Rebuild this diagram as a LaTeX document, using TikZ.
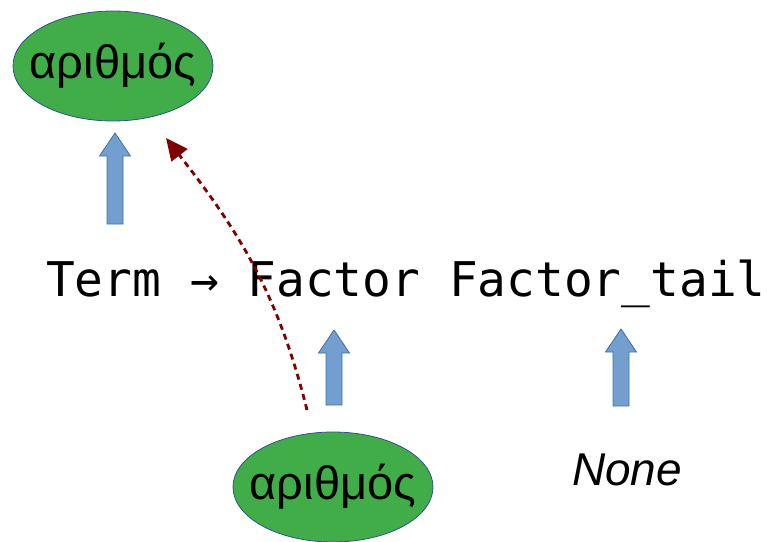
\documentclass[tikz,border=0pt]{standalone}
\usepackage{fontspec}
\setmainfont{Liberation Sans}
\newfontfamily\codefont{DejaVu Sans Mono}
\usetikzlibrary{shapes.geometric,arrows.meta}
\definecolor{numgreen}{RGB}{64,173,72}
\definecolor{numedge}{RGB}{47,82,143}
\definecolor{upfill}{RGB}{114,159,207}
\definecolor{upedge}{RGB}{65,113,156}
\definecolor{linkred}{RGB}{128,0,0}
\tikzset{
    numnode/.style={ellipse, draw=numedge, line width=0.8pt, fill=numgreen,
        minimum width=200pt, minimum height=110pt, inner sep=0pt,
        label={[font=\fontsize{47pt}{50pt}\selectfont, inner sep=0pt]center:#1}},
    uparrow/.style={draw=upedge, line width=0.8pt, fill=upfill},
    linkarrow/.style={linkred, line width=2.8pt, dash pattern=on 6pt off 4.5pt,
        -{Triangle[length=22pt,width=20pt]}}
}
\begin{document}
\begin{tikzpicture}[x=1pt,y=1pt]
    \useasboundingbox (0,0) rectangle (767,-541);
    \node[numnode=αριθμός] (numtop) at (113,-66) {};
    \node[numnode=αριθμός] (numbot) at (333,-487) {};
    \node[anchor=base west, inner sep=0pt, font=\codefont\fontsize{47.8pt}{50pt}\selectfont]
        (rule) at (46,-296) {Term → Factor Factor\_tail};
    \node[anchor=base, inner sep=0pt, font=\itshape\fontsize{46pt}{50pt}\selectfont]
        (none) at (627,-485) {None};
    % block arrows: x, tip, bottom
    \foreach \x/\t/\b in {115/133/224, 334/330/405, 621/329/406} {
        \draw[uparrow] (\x-8,-\b) -- (\x-8,-\t-23) -- (\x-15.5,-\t-23) -- (\x,-\t)
            -- (\x+15.5,-\t-23) -- (\x+8,-\t-23) -- (\x+8,-\b) -- cycle;
    }
    \coordinate (linkstart) at (307,-410);
    \coordinate (linkend) at (166,-138);
    \draw[linkarrow] (linkstart) to[out=104, in=-52] (linkend);
\end{tikzpicture}
\end{document}
